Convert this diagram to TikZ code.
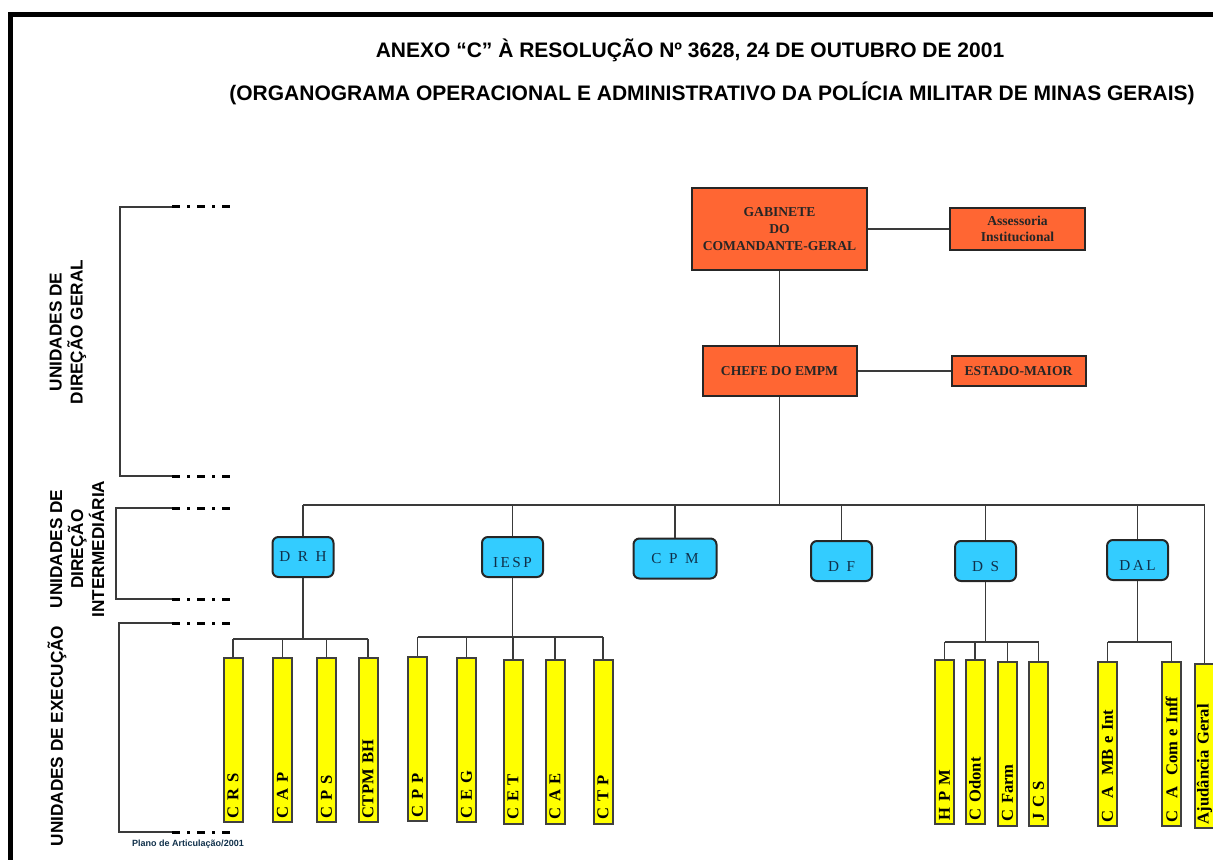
\documentclass[tikz,border=0pt]{standalone}
\usepackage{graphicx}
\usepackage{fontspec}
\setmainfont{Liberation Serif}
\setsansfont{Liberation Sans}
\usetikzlibrary{positioning}

\definecolor{gabred}{HTML}{FF6633}
\definecolor{dirblue}{HTML}{33CCFF}
\definecolor{dirtext}{HTML}{10304A}
\definecolor{exeyel}{HTML}{FFFF00}
\definecolor{lnkgray}{HTML}{3A3A3A}

\newcommand{\lowtext}[1]{\raisebox{-2.5pt}[5pt][0pt]{#1}}

\tikzset{
  lnk/.style={draw=lnkgray, line width=0.8pt},
  cmd/.style={draw=black!85, line width=1pt, fill=gabred, align=center, inner sep=0pt,
    text=black!85, font=\bfseries\fontsize{6.8}{8.3}\selectfont},
  dir/.style={draw=black!85, line width=1pt, fill=dirblue, rounded corners=3pt,
    minimum width=30.5pt, minimum height=20pt, inner sep=0pt, text=dirtext,
    font=\fontsize{7.6}{9}\selectfont},
  exe/.style={draw=black!75, line width=1pt, fill=exeyel, rotate=90, minimum height=9.5pt,
    inner xsep=2pt, inner ysep=0pt, text width=78pt, align=left,
    font=\bfseries\fontsize{8.3}{9}\selectfont},
  lvl/.style={rotate=90, align=center, font=\sffamily\bfseries\fontsize{8.6}{10.5}\selectfont},
  brk/.style={draw=lnkgray, line width=0.8pt},
  dd/.style={draw=black, line width=1.5pt, dash pattern=on 4pt off 3.5pt on 1.5pt off 3.5pt}
}

\begin{document}
\begin{tikzpicture}[x=0.5pt, y=-0.5pt]
  \useasboundingbox (0,0) rectangle (1213,860);
  \draw[line width=2.5pt] (10.5,860) -- (10.5,15) -- (1220,15);

  \node[font=\sffamily\bfseries\fontsize{10.5}{12}\selectfont] (t1) at (690,50)
    {ANEXO “C” À RESOLUÇÃO Nº 3628, 24 DE OUTUBRO DE 2001};
  \node[font=\sffamily\bfseries\fontsize{10.5}{12}\selectfont] (t2) at (712,93)
    {(ORGANOGRAMA OPERACIONAL E ADMINISTRATIVO DA POLÍCIA MILITAR DE MINAS GERAIS)};

  \node[lvl] (lg) at (68,332) {UNIDADES DE\\DIREÇÃO GERAL};
  \node[lvl] (li) at (77,549) {UNIDADES DE\\DIREÇÃO\\INTERMEDIÁRIA};
  \node[lvl] (le) at (57,736) {UNIDADES DE EXECUÇÃO};
  \node[font=\sffamily\bfseries\fontsize{4.5}{5}\selectfont, text=dirtext] (plano) at (188,844)
    {Plano de Articulação/2001};

  \coordinate (ga) at (172,207);
  \coordinate (gb) at (172,476);
  \coordinate (ia) at (172,508);
  \coordinate (ib) at (172,599);
  \coordinate (ea) at (172,623);
  \coordinate (eb) at (172,832);
  \draw[brk] (ga) -- (120,207) -- (120,476) -- (gb);
  \draw[brk] (ia) -- (116,508) -- (116,599) -- (ib);
  \draw[brk] (ea) -- (119,623) -- (119,832) -- (eb);
  \foreach \c in {ga,gb,ia,ib,ea,eb}
    \draw[dd] (\c) -- ++(61,0);

  \node[cmd, minimum width=87.5pt, minimum height=41pt] (gab) at (779.5,229)
    {GABINETE\\DO\\COMANDANTE-GERAL};
  \node[cmd, minimum width=67.5pt, minimum height=21pt, right=40.5pt of gab] (ass)
    {Assessoria\\Institucional};
  \node[cmd, minimum width=77pt, minimum height=25pt, below=37pt of gab] (chefe)
    {CHEFE DO EMPM};
  \node[cmd, minimum width=67pt, minimum height=15pt, right=46.5pt of chefe] (em)
    {ESTADO-MAIOR};
  \draw[lnk] (gab) -- (ass);
  \draw[lnk] (gab) -- (chefe);
  \draw[lnk] (chefe) -- (em);

  \node[dir] (drh) at (303,557) {D\ \ R\ \ H};
  \node[dir] (iesp) at (512.5,557) {\lowtext{I\,E\,S\,P}};
  \node[dir, minimum width=41.5pt] (cpm) at (675,558.5) {C\ \ P\ \ M};
  \node[dir] (df) at (841.5,561) {\lowtext{D\ \ F}};
  \node[dir] (ds) at (985.5,561) {\lowtext{D\ \ S}};
  \node[dir] (dal) at (1137.5,560) {\lowtext{D\,A\,L}};

  \node[exe] (crs) at (233,740) {C R S};
  \node[exe] (cap) at (282.5,740) {C A P};
  \node[exe] (cps) at (326.5,740) {C P S};
  \node[exe] (ctpm) at (368,740) {CTPM BH};
  \node[exe] (cpp) at (417.5,739) {C P P};
  \node[exe] (ceg) at (466.5,740) {C E G};
  \node[exe] (cet) at (513,741.5) {C E T};
  \node[exe] (cae) at (555,741.5) {C A E};
  \node[exe] (ctp) at (603,741.5) {C T P};
  \node[exe] (hpm) at (944.5,742) {H P M};
  \node[exe] (codont) at (975,742) {C Odont};
  \node[exe] (cfarm) at (1007.5,743.5) {C Farm};
  \node[exe] (jcs) at (1038.5,743.5) {J C S};
  \node[exe] (camb) at (1107.5,744) {C\ \ A\ \ MB e Int};
  \node[exe] (cacom) at (1171.5,744) {C\ \ A\ \ Com e Inff};
  \node[exe] (aj) at (1204.5,746) {Ajudância Geral};

  \coordinate (bus) at (0,505);
  \draw[lnk] (chefe) -- (chefe |- bus);
  \draw[lnk] (drh |- bus) -- (aj.east |- bus) -- (aj.east);
  \foreach \n in {drh,iesp,cpm,df,ds,dal}
    \draw[lnk] (\n) -- (\n |- bus);

  \coordinate (sdrh) at (0,639);
  \coordinate (siesp) at (0,637);
  \coordinate (sds) at (0,642);
  \coordinate (sdal) at (0,642);
  \draw[lnk] (drh) -- (drh |- sdrh);
  \draw[lnk] (crs.east |- sdrh) -- (ctpm.east |- sdrh);
  \foreach \n in {crs,cap,cps,ctpm}
    \draw[lnk] (\n.east) -- (\n.east |- sdrh);
  \draw[lnk] (iesp) -- (iesp |- siesp);
  \draw[lnk] (cpp.east |- siesp) -- (ctp.east |- siesp);
  \foreach \n in {cpp,ceg,cet,cae,ctp}
    \draw[lnk] (\n.east) -- (\n.east |- siesp);
  \draw[lnk] (ds) -- (ds |- sds);
  \draw[lnk] (hpm.east |- sds) -- (jcs.east |- sds);
  \foreach \n in {hpm,codont,cfarm,jcs}
    \draw[lnk] (\n.east) -- (\n.east |- sds);
  \draw[lnk] (dal) -- (dal |- sdal);
  \draw[lnk] (camb.east |- sdal) -- (cacom.east |- sdal);
  \foreach \n in {camb,cacom}
    \draw[lnk] (\n.east) -- (\n.east |- sdal);
\end{tikzpicture}
\end{document}
